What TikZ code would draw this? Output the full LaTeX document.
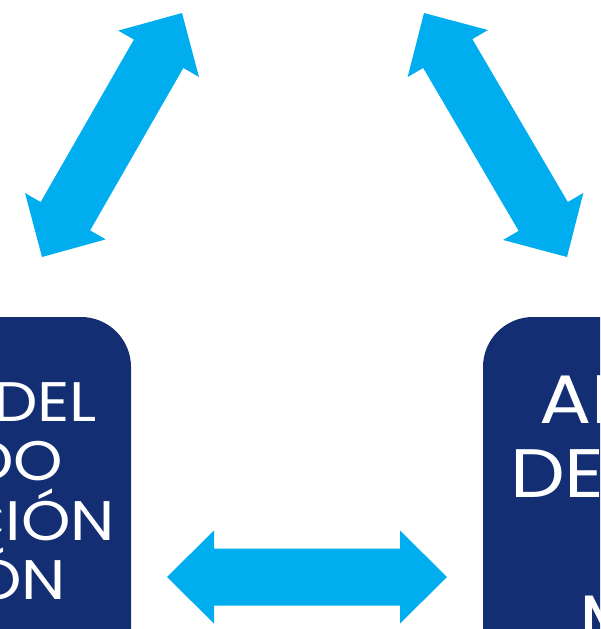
\documentclass[tikz,border=0pt]{standalone}
\usepackage{fontspec}
\setmainfont{Poppins}
\newfontfamily\widefont[FakeStretch=1.13]{Poppins}
\usetikzlibrary{calc}
\definecolor{navy}{RGB}{20,46,116}
\definecolor{sky}{RGB}{0,174,239}
\tikzset{
  box/.style={fill=navy, rounded corners=50pt, inner sep=0pt, outer sep=0pt, minimum width=261pt, minimum height=450pt},
  lbl/.style={text=white, inner sep=0pt, outer sep=0pt, font=\widefont\fontsize{55.7}{60}\selectfont},
  rlbl/.style={text=white, inner sep=0pt, outer sep=0pt, font=\widefont\fontsize{68.6}{73}\selectfont},
  arrowfill/.style={fill=sky}
}
\newcommand\dblarr[3]{%
  \coordinate (#3-p) at ($(#1)!47pt!(#2)$);
  \coordinate (#3-q) at ($(#2)!47pt!(#1)$);
  \fill[arrowfill] (#1) -- ($(#3-p)!46.5pt!90:(#2)$) -- ($(#3-p)!28.5pt!90:(#2)$)
    -- ($(#3-q)!28.5pt!-90:(#1)$) -- ($(#3-q)!46.5pt!-90:(#1)$) -- (#2)
    -- ($(#3-q)!46.5pt!90:(#1)$) -- ($(#3-q)!28.5pt!90:(#1)$)
    -- ($(#3-p)!28.5pt!-90:(#2)$) -- ($(#3-p)!46.5pt!-90:(#2)$) -- cycle;
}
\begin{document}
\begin{tikzpicture}[x=1pt,y=-1pt]
\useasboundingbox (0,0) rectangle (600,629);
\clip (0,0) rectangle (600,629);
% boxes
\node[box] (leftbox) at (0.5,542) {};
\node[box] (rightbox) at (613.5,542) {};
% left box text
\node[lbl, anchor=base east] (l1) at (97,421.5) {DEL};
\node[lbl, anchor=base east] (l2) at (63,480.8) {DO};
\node[lbl, anchor=base east] (l3) at (115,540.1) {CIÓN};
\node[lbl, anchor=base east] (l4) at (66,599.4) {ÓN};
% right box text
\node[rlbl, anchor=base west] (r1) at (539,423) {AL};
\node[rlbl, anchor=base west] (r2) at (510,497) {DE};
\node[rlbl, anchor=base west] (r4) at (579,643) {M};
% arrow end points
\coordinate (la) at (182,13);
\coordinate (lb) at (42,257);
\coordinate (ra) at (424,13);
\coordinate (rb) at (567,257);
\coordinate (ha) at (167,577);
\coordinate (hb) at (447,577);
\dblarr{la}{lb}{larr}
\dblarr{ra}{rb}{rarr}
\dblarr{ha}{hb}{harr}
\end{tikzpicture}
\end{document}
